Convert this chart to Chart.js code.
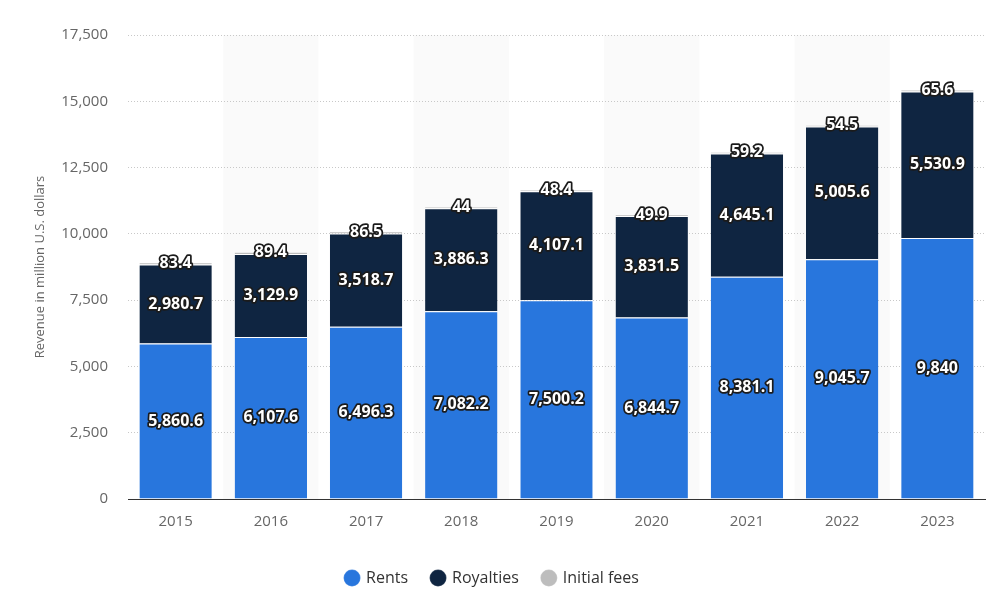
<!DOCTYPE html>
<html>
<head>
<meta charset="utf-8">
<script src="https://cdn.jsdelivr.net/npm/chart.js@4/dist/chart.umd.min.js"></script>
<style>
  html, body { margin: 0; padding: 0; background: #fff; }
  #wrap { width: 1000px; height: 604px; }
</style>
</head>
<body>
<div id="wrap"><canvas id="chart"></canvas></div>
<script>
const years = ['2015', '2016', '2017', '2018', '2019', '2020', '2021', '2022', '2023'];
const rents = [5860.6, 6107.6, 6496.3, 7082.2, 7500.2, 6844.7, 8381.1, 9045.7, 9840];
const royalties = [2980.7, 3129.9, 3518.7, 3886.3, 4107.1, 3831.5, 4645.1, 5005.6, 5530.9];
const initialFees = [83.4, 89.4, 86.5, 44, 48.4, 49.9, 59.2, 54.5, 65.6];

const FONT = '"Open Sans", "Noto Sans", sans-serif';

// light grey band behind every other year
const bands = {
  id: 'bands',
  beforeDraw(chart) {
    const { ctx, chartArea, scales } = chart;
    const x = scales.x;
    const w = (x.right - x.left) / years.length;
    ctx.save();
    ctx.fillStyle = '#fafafa';
    years.forEach((y, i) => {
      if (i % 2 === 1) {
        const cx = x.getPixelForValue(i);
        ctx.fillRect(cx - w / 2, chartArea.top, w, chartArea.bottom - chartArea.top);
      }
    });
    ctx.restore();
  }
};

// outlined value labels in the middle of each segment
const valueLabels = {
  id: 'valueLabels',
  afterDatasetsDraw(chart) {
    const { ctx } = chart;
    ctx.save();
    ctx.font = 'bold 16px ' + FONT;
    ctx.textAlign = 'center';
    ctx.textBaseline = 'middle';
    ctx.lineJoin = 'round';
    chart.data.datasets.forEach((ds, di) => {
      const meta = chart.getDatasetMeta(di);
      meta.data.forEach((bar, i) => {
        const v = ds.data[i];
        const text = v.toLocaleString('en-US', { maximumFractionDigits: 1 });
        const y = (bar.y + bar.base) / 2;
        ctx.lineWidth = 3.5;
        ctx.strokeStyle = '#1b1b1b';
        ctx.strokeText(text, bar.x, y);
        ctx.fillStyle = '#fff';
        ctx.fillText(text, bar.x, y);
      });
    });
    ctx.restore();
  }
};

new Chart(document.getElementById('chart'), {
  type: 'bar',
  data: {
    labels: years,
    datasets: [
      { label: 'Rents', data: rents, backgroundColor: '#2876dd' },
      { label: 'Royalties', data: royalties, backgroundColor: '#0f2541' },
      { label: 'Initial fees', data: initialFees, backgroundColor: '#bdbdbd' },
    ].map(d => Object.assign(d, {
      borderColor: '#ffffff',
      borderWidth: { top: 1, left: 0, right: 0, bottom: 0 },
      borderSkipped: false,
      categoryPercentage: 0.76,
      barPercentage: 1,
    })),
  },
  options: {
    responsive: true,
    maintainAspectRatio: false,
    animation: false,
    layout: { padding: { top: 35, right: 15, bottom: 8, left: 0 } },
    plugins: {
      legend: {
        position: 'bottom',
        labels: {
          usePointStyle: true,
          pointStyle: 'circle',
          boxWidth: 12,
          boxHeight: 12,
          padding: 24,
          color: '#333',
          font: { family: FONT, size: 16 },
        },
      },
      tooltip: { enabled: false },
    },
    scales: {
      x: {
        stacked: true,
        grid: { display: false },
        border: { display: true, color: '#333', width: 1 },
        ticks: { color: '#666', font: { family: FONT, size: 15 }, padding: 6 },
        afterFit(scale) { scale.height = 47; },
      },
      y: {
        stacked: true,
        min: 0,
        max: 17500,
        grid: { color: '#c8c8c8', drawTicks: false },
        border: { display: false, dash: [1, 2] },
        ticks: {
          stepSize: 2500,
          color: '#666',
          font: { family: FONT, size: 15 },
          padding: 20,
          callback: v => v.toLocaleString('en-US'),
        },
        title: {
          display: true,
          text: 'Revenue in million U.S. dollars',
          color: '#666',
          font: { family: FONT, size: 13 },
          padding: { top: 32, bottom: 0 },
        },
        afterFit(scale) { scale.width = 128; },
      },
    },
  },
  plugins: [bands, valueLabels],
});
</script>
</body>
</html>
